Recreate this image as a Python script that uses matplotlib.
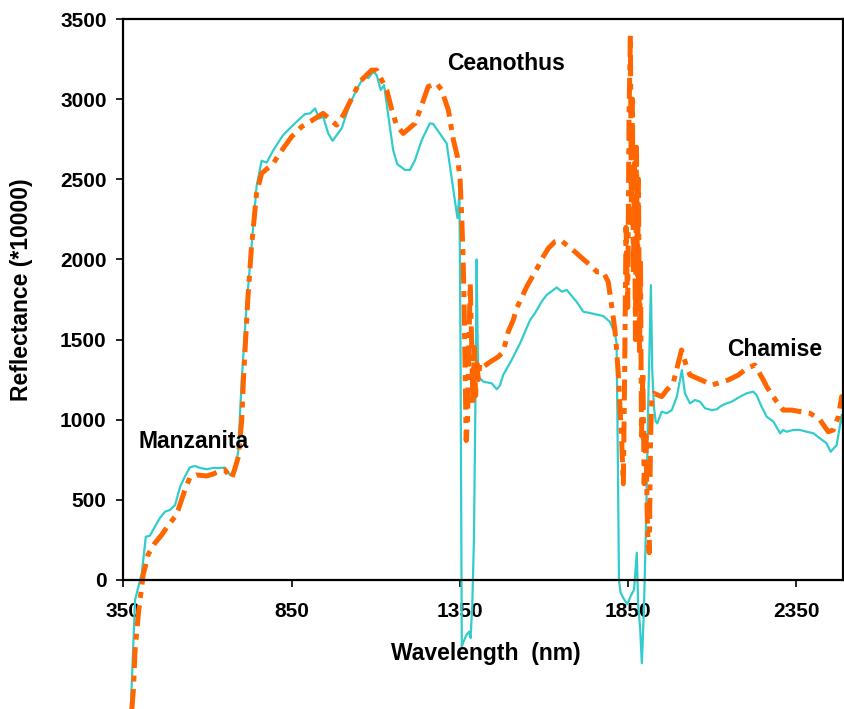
import matplotlib
matplotlib.use('Agg')
import matplotlib.pyplot as plt

plt.rcParams['font.family'] = ['Liberation Sans', 'DejaVu Sans']
plt.rcParams['font.weight'] = 'bold'

# solid cyan series
cyan_x = [372, 385, 405, 417, 429, 444, 459, 474, 489, 504, 519, 533, 548, 563, 578,
          598, 617, 637, 652, 667, 682, 692, 697, 702, 716, 731, 746, 761, 776, 796,
          825, 845, 865, 890, 905, 920, 932, 944, 959, 972, 999, 1024, 1048, 1068,
          1078, 1093, 1103, 1115, 1125, 1138, 1152, 1164, 1187, 1202, 1217, 1237,
          1261, 1271, 1311, 1343, 1349, 1352, 1356, 1362, 1370, 1378, 1382, 1387,
          1392, 1397, 1400, 1403, 1405, 1420, 1445, 1460, 1469, 1479, 1504, 1529,
          1559, 1573, 1593, 1608, 1638, 1653, 1668, 1697, 1717, 1742, 1776, 1796,
          1811, 1816, 1820, 1823, 1828, 1838, 1848, 1858, 1868, 1876, 1880, 1886,
          1891, 1897, 1903, 1910, 1918, 1922, 1927, 1932, 1937, 1950, 1965, 1980,
          1995, 2010, 2019, 2034, 2049, 2064, 2079, 2099, 2114, 2123, 2138, 2158,
          2183, 2203, 2222, 2232, 2247, 2262, 2282, 2302, 2311, 2321, 2341, 2361,
          2381, 2401, 2420, 2440, 2452, 2470, 2485, 2495]
cyan_y = [-820, -125, 42, 270, 276, 333, 387, 426, 437, 468, 582, 645, 703, 711, 699,
          691, 699, 699, 701, 655, 686, 811, 1040, 1248, 1700, 2079, 2454, 2616, 2604, 2682,
          2776, 2818, 2859, 2907, 2911, 2942, 2879, 2890, 2786, 2740, 2818, 2974, 3078, 3150,
          3130, 3171, 3150, 3057, 3088, 2890, 2682, 2595, 2558, 2558, 2620, 2745,
          2849, 2845, 2724, 2258, 2412, 1500, -415, -380, -343, -322, -362, -166,
          250, 1200, 2000, 1500, 1268, 1237, 1227, 1190, 1212, 1279, 1372, 1476,
          1622, 1663, 1736, 1778, 1825, 1799, 1809, 1736, 1674, 1663, 1647, 1611,
          1539, 1476, 700, 0, -80, -120, -150, -100, -60, 170, -150, -300,
          -520, -200, 300, 1100, 1840, 1300, 1080, 990, 977, 1050, 1040, 1060,
          1144, 1310, 1165, 1102, 1123, 1112, 1071, 1060, 1065, 1081, 1098, 1112,
          1144, 1165, 1175, 1154, 1081, 1019, 988, 915, 936, 925, 936, 936,
          925, 915, 884, 853, 800, 842, 1029, 880]

# dash-dot orange series
orange_x = [375, 380, 385, 395, 409, 424, 444, 464, 484, 504, 513, 533, 548, 568, 598,
            617, 637, 652, 672, 682, 692, 702, 707, 720, 731, 746, 761, 796, 811, 850,
            880, 905, 944, 984, 1004, 1024, 1053, 1088, 1103, 1118, 1133, 1148, 1162,
            1182, 1217, 1242, 1256, 1281, 1296, 1316, 1331, 1343, 1351, 1356, 1360,
            1363, 1366, 1369, 1373, 1377, 1381, 1385, 1389, 1393, 1397, 1401, 1405,
            1410, 1420, 1440, 1465, 1479, 1494, 1509, 1519, 1549, 1588, 1598, 1613,
            1633, 1650, 1692, 1742, 1757, 1776, 1791, 1801, 1811, 1816, 1821, 1826,
            1831, 1836, 1840, 1844, 1849, 1853, 1857, 1860, 1863, 1866, 1869, 1872,
            1875, 1878, 1881, 1884, 1887, 1890, 1894, 1898, 1903, 1908, 1913, 1917,
            1921, 1926, 1950, 1965, 1984, 1999, 2009, 2024, 2034, 2079, 2099, 2148,
            2178, 2203, 2227, 2252, 2262, 2292, 2311, 2336, 2391, 2420, 2445, 2460,
            2475, 2485, 2495]
orange_y = [-820, -686, -437, -208, 31, 160, 230, 281, 343, 395, 437, 561, 640, 655, 649,
            661, 682, 686, 634, 697, 769, 998, 1248, 1750, 2079, 2412, 2537, 2599, 2651, 2765,
            2828, 2859, 2911, 2838, 2901, 2984, 3109, 3181, 3181, 3119, 3057, 2932, 2838,
            2786, 2849, 2994, 3078, 3099, 3057, 2932, 2745, 2641, 2495, 2250, 2000,
            1700, 1300, 870, 1000, 1450, 1850, 1500, 1100, 1450, 1150, 1350, 1250,
            1350, 1330, 1360, 1393, 1424, 1549, 1622, 1695, 1830, 1976, 2017, 2069,
            2111, 2120, 2048, 1955, 1923, 1923, 1861, 1716, 1560, 1435, 1289, 1081,
            873, 600, 1300, 2200, 1700, 2900, 3400, 2300, 3000, 1900, 2600, 1500,
            2700, 1900, 2500, 1400, 2000, 900, 1300, 600, 900, 300, 170, 900,
            1150, 1165, 1144, 1185, 1227, 1352, 1435, 1331, 1279, 1237, 1216, 1248,
            1279, 1321, 1341, 1248, 1206, 1112, 1060, 1060, 1040, 1000, 925, 936,
            1019, 1144, 1060]

x_ticks = [350, 850, 1350, 1850, 2350]
y_ticks = [0, 500, 1000, 1500, 2000, 2500, 3000, 3500]

fig = plt.figure(figsize=(8.45, 7.09), dpi=100)
ax = fig.add_axes([0.1459, 0.0, 0.8522, 0.9732])

ax.plot(cyan_x, cyan_y, color='#33CCCC', lw=1.6)
ax.plot(orange_x, orange_y, color='#FF6600', lw=3.6,
        linestyle=(0, (4.2, 1.5, 1.2, 1.5)))

ax.set_xlim(350, 2490)
ax.set_ylim(-805, 3500)
ax.set_xticks(x_ticks)
ax.set_yticks(y_ticks)

ax.spines['bottom'].set_position(('data', 0))
ax.spines['left'].set_bounds(0, 3500)
ax.spines['right'].set_bounds(0, 3500)
for s in ax.spines.values():
    s.set_linewidth(1.6)
    s.set_color('black')

ax.tick_params(axis='x', direction='out', length=5, width=1.2, pad=11, labelsize=15)
ax.tick_params(axis='y', direction='out', length=5, width=1.2, pad=7, labelsize=15)
for lab in ax.get_xticklabels() + ax.get_yticklabels():
    lab.set_fontweight('bold')

ax.text(1487, 3220, 'Ceanothus', fontsize=16.5, fontweight='bold', ha='center', va='center')
ax.text(559, 867, 'Manzanita', fontsize=16.5, fontweight='bold', ha='center', va='center')
ax.text(2287, 1435, 'Chamise', fontsize=16.5, fontweight='bold', ha='center', va='center')

fig.text(0.5746, 0.069, 'Wavelength  (nm)', fontsize=16.5, fontweight='bold',
         ha='center', va='baseline')
fig.text(0.025, 0.591, 'Reflectance (*10000)', fontsize=16.5, fontweight='bold',
         ha='center', va='center', rotation=90)

fig.savefig('out.png', dpi=100)
